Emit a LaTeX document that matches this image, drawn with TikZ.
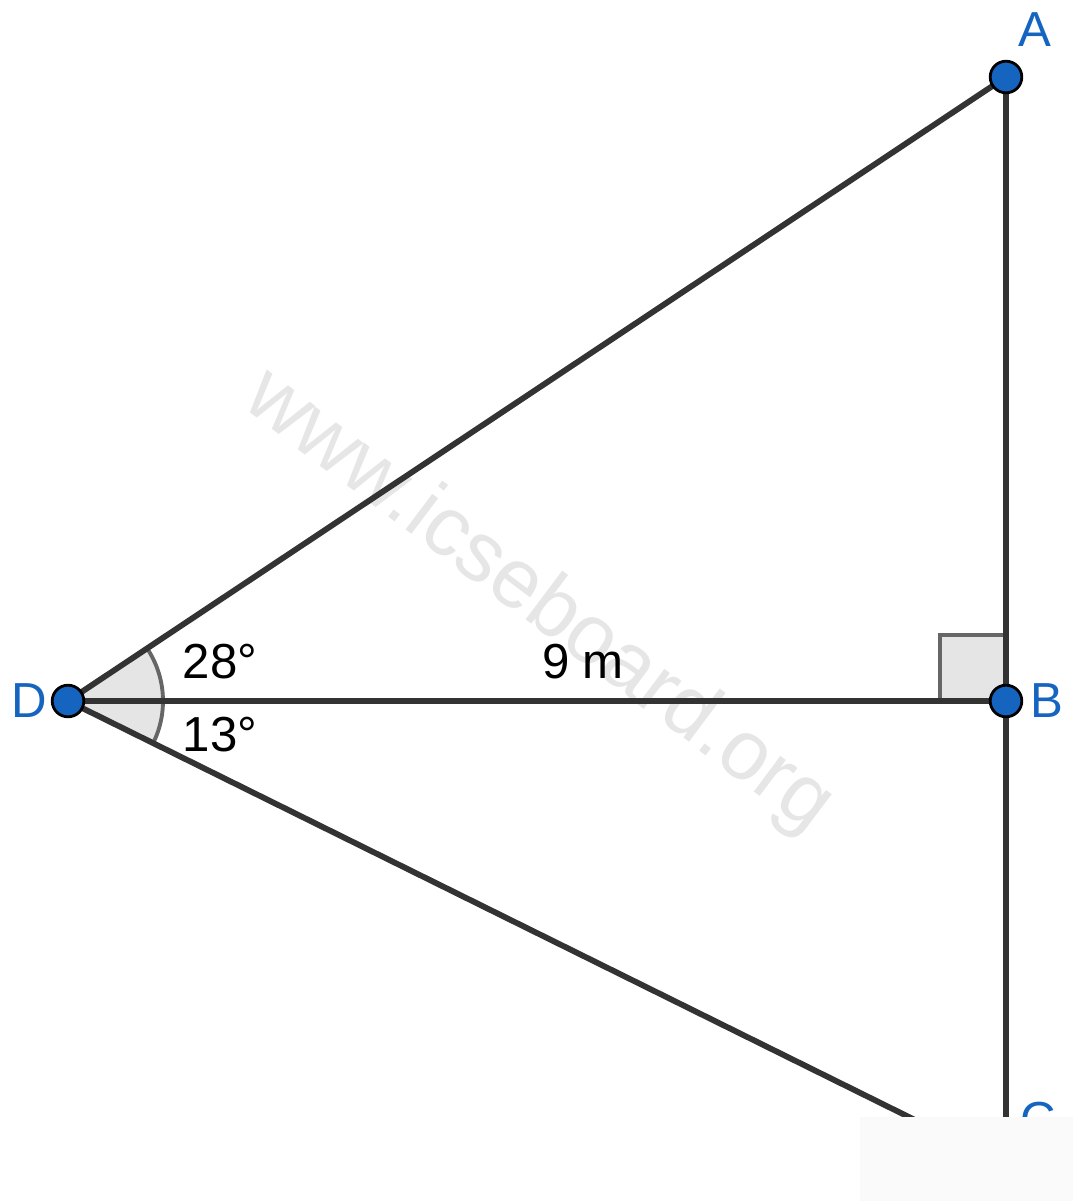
\documentclass[tikz,border=0pt]{standalone}
\usepackage{fontspec}
\setmainfont{Liberation Sans}
\usetikzlibrary{calc}
\definecolor{ptblue}{HTML}{1565C0}
\definecolor{linegray}{HTML}{333333}
\definecolor{anglegray}{HTML}{E5E5E5}
\definecolor{arcgray}{HTML}{666666}
\definecolor{wmgray}{HTML}{E6E6E6}
\def\arcr{95}

\tikzset{
  side/.style={draw=linegray, line width=3.3pt},
  pt/.style={circle, fill=ptblue, draw=black, line width=1.6pt, minimum size=18pt, inner sep=0pt},
  ptlabel/.style={text=ptblue, font=\fontsize{28}{32}\selectfont, inner sep=0pt},
  numlabel/.style={text=black, font=\fontsize{28}{32}\selectfont, inner sep=0pt}
}

\begin{document}
\begin{tikzpicture}[x=0.02cm, y=-0.02cm]
\useasboundingbox (0,0) rectangle (1073,1201);

%watermark
\node[text=wmgray, rotate=-36.9, font=\fontsize{48}{58}\selectfont] (wm) at (538,602) {www.icseboard.org};

%points (pixel coordinates, y down)
\coordinate (D) at (68,701);
\coordinate (B) at (1006,701);
\coordinate (A) at (1006,77);
\coordinate (C) at (1006,1165);

%angle at D, from DC up to DA
\fill[anglegray] (D) -- ++(26.3:\arcr) arc[start angle=26.3, end angle=-33.6, radius=\arcr] -- cycle;
\draw[arcgray, line width=2.2pt] (D) ++(26.3:\arcr) arc[start angle=26.3, end angle=-33.6, radius=\arcr];

%right angle at B
\fill[anglegray] (940,635) rectangle (B);
\draw[arcgray, line width=2.2pt] (940,701) -- (940,635) -- (1006,635);

%sides
\draw[side] (D) -- (A);
\draw[side] (D) -- (B);
\draw[side] (D) -- (C);
\draw[side] (A) -- (C);

%labels
\node[numlabel] (l28) at (220,662) {28°};
\node[numlabel] (l13) at (220,735) {13°};
\node[numlabel] (l9) at (583,662) {9 m};

\node[ptlabel] (lA) at (1035,30) {A};
\node[ptlabel] (lB) at (1047,701) {B};
\node[ptlabel] (lD) at (29,701) {D};
\node[ptlabel] (lC) at (1038,1120) {C};

%the bottom corner is covered
\fill[fill=white!98!black] (860,1117) rectangle (1073,1201);

%point dots
\node[pt] (pA) at (A) {};
\node[pt] (pB) at (B) {};
\node[pt] (pD) at (D) {};

\end{tikzpicture}
\end{document}
